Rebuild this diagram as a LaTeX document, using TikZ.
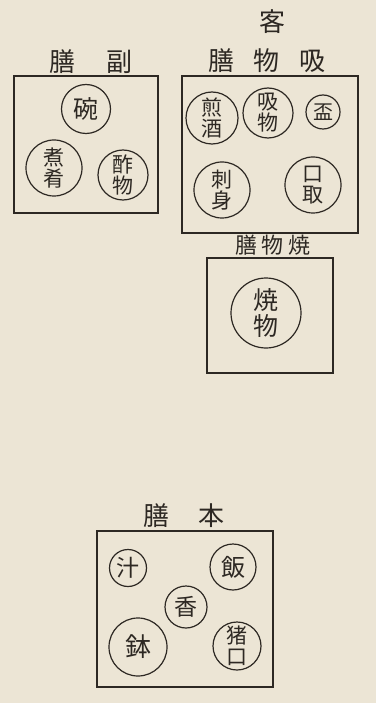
\documentclass[tikz,border=0pt]{standalone}
\usepackage{fontspec}
\newfontfamily\jp{Noto Sans CJK JP}
\definecolor{paper}{RGB}{236,229,213}
\definecolor{ink}{RGB}{45,40,35}
\tikzset{
  tray/.style={draw=ink, line width=2.2pt, minimum width=#1},
  dish/.style={circle, draw=ink, line width=1.2pt, minimum size=#1, inner sep=0pt,
    text=ink, align=center, font=\jp\fontsize{21}{21}\selectfont},
  head/.style={text=ink, inner sep=0pt, font=\jp\fontsize{26}{26}\selectfont},
}
\begin{document}
\begin{tikzpicture}[x=1pt,y=-1pt]
\fill[paper] (0,0) rectangle (376,703);
\useasboundingbox (0,0) rectangle (376,703);

% guest
\node[head] (kyaku) at (272,22) {客};

% side tray
\node[head] (lfuku) at (91,62) {膳\hspace{32pt}副};
\node[tray=144, minimum height=137] (fuku) at (86,144.5) {};
\node[dish=49, font=\jp\fontsize{25}{25}\selectfont] (wan) at (86,109) {碗};
\node[dish=56] (nizakana) at (54,168) {煮\\肴};
\node[dish=50] (sunomono) at (123,175) {酢\\物};

% soup tray
\node[head] (lsui) at (267,61) {膳\hspace{20pt}物\hspace{20pt}吸};
\node[tray=176, minimum height=157] (sui) at (270,154.5) {};
\node[dish=52] (iriza) at (212,118) {煎\\酒};
\node[dish=50] (suimono) at (268,113) {吸\\物};
\node[dish=34, font=\jp\fontsize{20}{20}\selectfont] (sakazuki) at (323,112) {盃};
\node[dish=56] (sashimi) at (222,190) {刺\\身};
\node[dish=56] (kuchitori) at (313,185) {口\\取};

% grilled tray
\node[head, font=\jp\fontsize{22}{22}\selectfont] (lyaki) at (273,245) {膳\hspace{5pt}物\hspace{5pt}焼};
\node[tray=126, minimum height=115] (yaki) at (270,315.5) {};
\node[dish=70, font=\jp\fontsize{25}{26}\selectfont] (yakimono) at (266,313) {焼\\物};

% main tray
\node[head] (lhon) at (184,516) {膳\hspace{30pt}本};
\node[tray=176, minimum height=156] (hon) at (185,609) {};
\node[dish=37, font=\jp\fontsize{23}{23}\selectfont] (shiru) at (128,568) {汁};
\node[dish=46, font=\jp\fontsize{24}{24}\selectfont] (meshi) at (233,567) {飯};
\node[dish=42, font=\jp\fontsize{23}{23}\selectfont] (ko) at (186,607) {香};
\node[dish=58, font=\jp\fontsize{26}{26}\selectfont] (hachi) at (138,647) {鉢};
\node[dish=48] (choko) at (237,646) {猪\\口};
\end{tikzpicture}
\end{document}
